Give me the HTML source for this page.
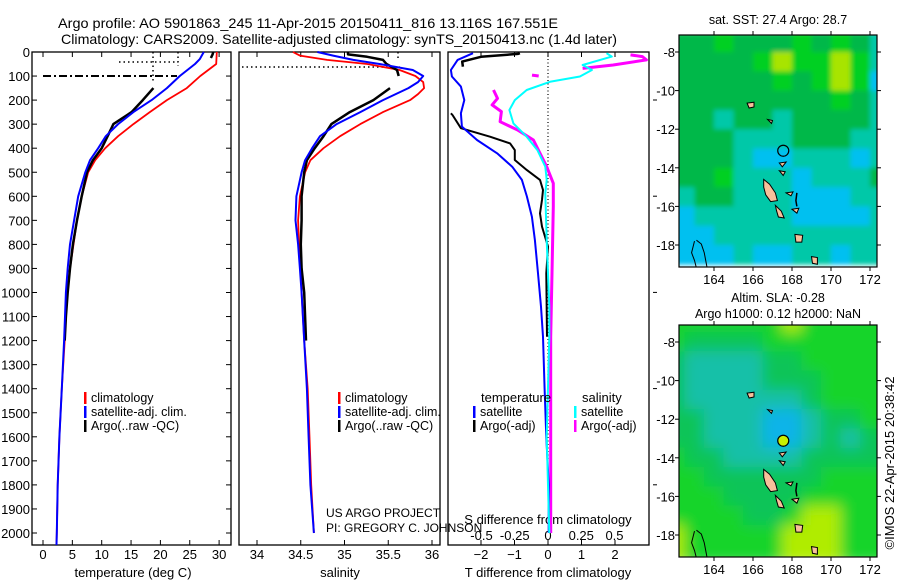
<!DOCTYPE html>
<html><head><meta charset="utf-8"><style>
html,body{margin:0;padding:0;background:#fff;}
svg{display:block;font-family:"Liberation Sans",sans-serif;}
</style></head><body>
<svg id="fig" width="900" height="580" viewBox="0 0 900 580" xmlns="http://www.w3.org/2000/svg">
<g id="titles">
<text x="58" y="28" font-size="14" textLength="500" lengthAdjust="spacingAndGlyphs">Argo profile: AO 5901863_245 11-Apr-2015 20150411_816 13.116S 167.551E</text>
<text x="61" y="44" font-size="14" textLength="556" lengthAdjust="spacingAndGlyphs">Climatology: CARS2009. Satellite-adjusted climatology: synTS_20150413.nc (1.4d later)</text>
</g>
<g id="p1"></g>
<g id="p2"></g>
<g id="p3"></g>
<g id="m1"></g>
<g id="m2"></g>
<text transform="translate(894,463) rotate(-90)" text-anchor="middle" font-size="13">©IMOS 22-Apr-2015 20:38:42</text>
<text x="326" y="517" font-size="12">US ARGO PROJECT</text>
<text x="326" y="532" font-size="12">PI: GREGORY C. JOHNSON</text>
</svg>
<script>
// ---------- profile data ----------
const depthTicks=[0,100,200,300,400,500,600,700,800,900,1000,1100,1200,1300,1400,1500,1600,1700,1800,1900,2000];
const tempTicks=[0,5,10,15,20,25,30];
const salTicks=[34,34.5,35,35.5,36];
const dTTicks=[-2,-1,0,1,2];
const dSTicks=[-0.5,-0.25,0,0.25,0.5];
const dSTickLabels=["-0.5","-0.25","0","0.25","0.5"];

const climDepth=[0,50,100,150,200,250,300,350,400,450,500,600,700,800,900,1000,1200,1400,1600,1800,2000,2050];
const climTemp=[29.6,29.5,26.8,24.5,21.1,18.2,15.4,12.8,10.6,8.9,7.7,6.6,5.8,5.2,4.6,4.1,3.7,3.2,2.8,2.5,2.35,2.3];
const satDepth=[0,30,50,100,150,200,250,300,350,400,450,500,600,700,800,900,1000,1200,1400,1600,1800,2000,2050];
const satTemp=[27.4,26.7,25.9,23.3,21.1,18.5,15.4,12.8,10.7,9.4,8.0,7.2,6.0,5.3,4.6,4.2,3.9,3.6,3.2,2.8,2.5,2.35,2.3];
const argoTopDepth=[0,10,25];
const argoTopTemp=[29.0,28.9,28.6];
const argoDepth=[150,200,250,300,350,400,450,500,600,700,800,900,1000,1100,1200];
const argoTemp=[18.8,17.0,15.1,12.0,11.0,10.0,8.5,7.5,6.6,5.8,5.1,4.6,4.2,3.9,3.7];

const climSal=[34.41,34.49,34.8,35.26,35.63,35.81,35.9,35.91,35.84,35.75,35.44,35.18,34.95,34.76,34.61,34.55,34.49,34.47,34.48,34.5,34.51,34.54,34.58,34.6,34.62,34.65];
const climSalDepth=[0,15,33,50,75,100,125,150,175,200,250,300,350,400,450,500,600,700,800,900,1000,1200,1400,1600,1800,2000];
const satSalDepth=[0,15,33,50,75,100,125,150,200,250,300,350,400,450,500,600,700,800,900,1000,1200,1400,1600,1800,2000];
const satSal=[34.69,34.87,35.1,35.4,35.78,35.9,35.84,35.73,35.44,35.18,34.91,34.72,34.63,34.55,34.51,34.45,34.44,34.47,34.49,34.51,34.54,34.57,34.59,34.61,34.65];
const argoSalTopDepth=[0,10,20,33,50,75,100];
const argoSalTop=[35.04,35.04,35.26,35.44,35.48,35.6,35.62];
const argoSalDepth=[150,200,250,300,350,400,450,500,600,700,800,900,1000,1200];
const argoSal=[35.52,35.33,35.06,34.85,34.76,34.66,34.57,34.54,34.51,34.51,34.5,34.51,34.54,34.56];

const dTSatDepth=[5,33,75,102,144,200,255,310,366,421,477,532,601,685,782,920,1059,1184,1400,1600,1800,2000];
const dTSat=[-2.24,-2.7,-2.9,-2.87,-2.6,-2.5,-2.6,-2.57,-2.12,-1.52,-1.07,-0.78,-0.63,-0.48,-0.39,-0.3,-0.21,-0.15,-0.1,-0.05,0.02,0.02];
const dTArgoTopDepth=[5,8,20,40,61];
const dTArgoTop=[-0.84,-0.9,-2.0,-2.56,-2.54];
const dTArgoDepth=[255,262,317,352,380,408,449,491,532,574,615,671,726,809,920,1184];
const dTArgo=[-2.9,-2.85,-2.6,-1.73,-1.13,-0.99,-0.99,-0.63,-0.24,-0.15,-0.18,-0.24,-0.18,0,-0.05,-0.03];
const dSSatDepth=[5,19,54,75,102,123,158,200,241,297,352,408,477,532,588,782,1059,1184,1600,2000];
const dSSat=[0.44,0.48,0.26,0.33,0.24,0.02,-0.16,-0.25,-0.29,-0.26,-0.16,-0.08,-0.02,-0.01,-0.02,-0.01,0.01,0.01,-0.01,0.01];
const dSArgoTopDepth=[12,19,33,54,68];
const dSArgoTop=[0.62,0.71,0.74,0.49,0.26];
const dSArgoMidDepth=[96,100];
const dSArgoMid=[-0.12,-0.07];
const dSArgoDepth=[158,193,220,248,290,324,366,421,477,546,643,920,1184,1600,2000];
const dSArgo=[-0.41,-0.38,-0.42,-0.35,-0.36,-0.23,-0.11,-0.06,-0.01,0.04,0.04,0.03,0.02,0.02,0.02];

// ---------- map data (colour level per 1-degree cell, rows lat -7..-19, cols lon 162..173) ----------
const mapLons=[162,163,164,165,166,167,168,169,170,171,172];
const mapLats=[-7,-8,-9,-10,-11,-12,-13,-14,-15,-16,-17,-18];
const sstLevels=[
[4,4,5,4,4,4,5,4,5,4,3],
[4,4,4,4,5,6,5,5,6,5,3],
[4,4,4,4,4,5,4,5,6,5,2],
[4,4,4,4,4,4,4,4,5,4,3],
[4,4,3,4,4,3,4,4,4,4,3],
[4,4,4,3,3,3,4,4,4,3,3],
[4,4,4,3,2,2,3,3,3,2,3],
[4,4,5,3,3,3,2,3,3,3,4],
[3,4,4,3,3,3,2,2,2,3,3],
[2,3,3,3,3,3,2,2,2,2,3],
[2,2,3,3,3,3,3,3,3,3,3],
[2,2,2,3,2,2,3,3,2,3,3]];
const slaLevels=[
[5,5,5,5,5,5,6,5,5,5,5],
[5,4,4,4,4,5,5,5,5,5,5],
[4,3,3,3,3,4,4,5,5,5,5],
[4,3,3,3,3,4,4,4,5,5,5],
[4,3,3,3,3,3,3,4,5,5,5],
[4,4,3,3,3,2,2,3,4,4,5],
[4,4,3,3,3,2,2,3,4,3,4],
[5,4,4,3,3,3,3,4,4,4,4],
[5,5,4,4,4,4,4,4,5,5,5],
[5,5,5,4,4,4,4,5,5,5,5],
[5,5,5,5,4,4,5,6,6,5,5],
[6,5,5,5,5,5,6,6,6,5,5]];
const mapLonTicks=[164,166,168,170,172];
const mapLatTicks=[-8,-10,-12,-14,-16,-18];
const argoLon=167.551, argoLat=-13.116;

const NS="http://www.w3.org/2000/svg";
function mk(parent,tag,attrs){const e=document.createElementNS(NS,tag);for(const k in attrs)e.setAttribute(k,attrs[k]);parent.appendChild(e);return e;}
const yD=d=>52+d*0.2405;
const xT=t=>43+t*5.87;
const xS=s=>257+(s-34)*87.5;
const xDT=v=>548+v*33.5;
const xDS=v=>548+v*133;
const TOP=52,BOT=545;

function polyline(g,xs,ds,fx,color,w,name){
  const pts=xs.map((v,i)=>fx(v).toFixed(1)+","+yD(ds[i]).toFixed(1)).join(" ");
  const p=mk(g,"polyline",{points:pts,fill:"none",stroke:color,"stroke-width":w,"stroke-linejoin":"round"});
  
  
}
function frame(g,x0,x1,name){
  const r=mk(g,"rect",{x:x0,y:TOP,width:x1-x0,height:BOT-TOP,fill:"none",stroke:"#000","stroke-width":1.3});
  
  
}
function xAxis(g,ticks,fx,labels,ly,name){
  ticks.forEach((t,i)=>{
    const x=fx(t);
    mk(g,"line",{x1:x,x2:x,y1:TOP,y2:TOP+5,stroke:"#000"});
    mk(g,"line",{x1:x,x2:x,y1:BOT,y2:BOT-5,stroke:"#000"});
    const tx=mk(g,"text",{x:x,y:ly,"text-anchor":"middle","font-size":13});
    tx.textContent=labels?labels[i]:String(t);
    
    
  });
}
function legendEntry(g,x,y,color,label){
  const r=mk(g,"rect",{x:x,y:y-10,width:2.5,height:12,fill:color});
  
  
  const t=mk(g,"text",{x:x+7,y:y,"font-size":12.5});
  t.textContent=label;
  
  
}
function label(g,x,y,txt,name,anchor){
  const t=mk(g,"text",{x:x,y:y,"text-anchor":anchor||"middle","font-size":13});
  t.textContent=txt;
  
  
}

// ----- panel 1 temperature -----
const p1=document.getElementById("p1");
frame(p1,32,231,"temperature-plot-frame");
depthTicks.forEach(d=>{
  const y=yD(d);
  mk(p1,"line",{x1:32,x2:37,y1:y,y2:y,stroke:"#000"});
  mk(p1,"line",{x1:231,x2:226,y1:y,y2:y,stroke:"#000"});
  const t=mk(p1,"text",{x:30,y:y+5,"text-anchor":"end","font-size":13});
  t.textContent=d;
  
  
});
xAxis(p1,tempTicks,xT,null,559,"temperature-tick-label");
label(p1,133,577,"temperature (deg C)","temperature-axis-title");
mk(p1,"line",{x1:119,x2:178,y1:62,y2:62,stroke:"#000","stroke-dasharray":"1.5,3","stroke-width":1.5});
mk(p1,"line",{x1:153,x2:153,y1:52,y2:83,stroke:"#000","stroke-dasharray":"1.5,3","stroke-width":1.5});
mk(p1,"line",{x1:178,x2:178,y1:52,y2:66,stroke:"#000","stroke-dasharray":"1.5,3","stroke-width":1.5});
mk(p1,"line",{x1:43,x2:177,y1:76,y2:76,stroke:"#000","stroke-dasharray":"8,3,2,3","stroke-width":2});
polyline(p1,climTemp,climDepth,xT,"#ff0000",1.8,"climatology-temperature-line");
polyline(p1,argoTopTemp,argoTopDepth,xT,"#000",2.5,"argo-temperature-top-line");
polyline(p1,argoTemp,argoDepth,xT,"#000",2.5,"argo-temperature-line");
polyline(p1,satTemp,satDepth,xT,"#0000ff",2,"satellite-temperature-line");
legendEntry(p1,84,402,"#ff0000","climatology");
legendEntry(p1,84,416,"#0000ff","satellite-adj. clim.");
legendEntry(p1,84,430,"#000","Argo(..raw -QC)");

// ----- panel 2 salinity -----
const p2=document.getElementById("p2");
frame(p2,239,440,"salinity-plot-frame");
xAxis(p2,salTicks,xS,["34","34.5","35","35.5","36"],559,"salinity-tick-label");
label(p2,340,577,"salinity","salinity-axis-title");
mk(p2,"line",{x1:242,x2:400,y1:67,y2:67,stroke:"#000","stroke-dasharray":"1.5,3","stroke-width":1.5});
mk(p2,"line",{x1:398,x2:398,y1:52,y2:60,stroke:"#000","stroke-dasharray":"1.5,3","stroke-width":1.5});
polyline(p2,climSal,climSalDepth,xS,"#ff0000",1.8,"climatology-salinity-line");
polyline(p2,argoSalTop,argoSalTopDepth,xS,"#000",2.5,"argo-salinity-top-line");
polyline(p2,argoSal,argoSalDepth,xS,"#000",2.5,"argo-salinity-line");
polyline(p2,satSal,satSalDepth,xS,"#0000ff",2,"satellite-salinity-line");
legendEntry(p2,338,402,"#ff0000","climatology");
legendEntry(p2,338,416,"#0000ff","satellite-adj. clim.");
legendEntry(p2,338,430,"#000","Argo(..raw -QC)");

// ----- panel 3 differences -----
const p3=document.getElementById("p3");
frame(p3,448,649,"difference-plot-frame");
dTTicks.forEach(t=>{const x=xDT(t);mk(p3,"line",{x1:x,x2:x,y1:BOT,y2:BOT-5,stroke:"#000"});mk(p3,"line",{x1:x,x2:x,y1:TOP,y2:TOP+5,stroke:"#000"});});
dTTicks.forEach(t=>{label(p3,xDT(t),559,String(t).replace("-","−"),"t-diff-tick-label");});
dSTicks.forEach((t,i)=>{label(p3,xDS(t),540,dSTickLabels[i],"s-diff-tick-label");});
label(p3,548,524,"S difference from climatology","s-diff-axis-title");
label(p3,548,577,"T difference from climatology","t-diff-axis-title");
[0,400,800,1200,1600,2000].forEach(d=>{mk(p3,"line",{x1:653,x2:657,y1:yD(d)+48,y2:yD(d)+48,stroke:"#000"});});
mk(p3,"line",{x1:548,x2:548,y1:52,y2:460,stroke:"#000","stroke-dasharray":"1,2.5","stroke-width":1.2});
polyline(p3,dSArgoTop,dSArgoTopDepth,xDS,"#ff00ff",3,"argo-salinity-diff-top-line");
polyline(p3,dSArgoMid,dSArgoMidDepth,xDS,"#ff00ff",3,"argo-salinity-diff-mid-line");
polyline(p3,dSArgo,dSArgoDepth,xDS,"#ff00ff",3,"argo-salinity-diff-line");
polyline(p3,dTArgoTop,dTArgoTopDepth,xDT,"#000",2.5,"argo-temperature-diff-top-line");
polyline(p3,dTArgo,dTArgoDepth,xDT,"#000",2,"argo-temperature-diff-line");
polyline(p3,dTSat,dTSatDepth,xDT,"#0000ff",2,"satellite-temperature-diff-line");
polyline(p3,dSSat,dSSatDepth,xDS,"#00ffff",2,"satellite-salinity-diff-line");
label(p3,481,402,"temperature","legend-temperature-header","start");
label(p3,582,402,"salinity","legend-salinity-header","start");
legendEntry(p3,473,416,"#0000ff","satellite");
legendEntry(p3,473,430,"#000","Argo(-adj)");
legendEntry(p3,574,416,"#00ffff","satellite");
legendEntry(p3,574,430,"#ff00ff","Argo(-adj)");

// ----- maps -----
const sstPal=["#0018a0","#0060f0","#00c0f0","#00c8a8","#00b848","#00d020","#a8e400","#f0f000"];
const slaPal=["#0018a0","#0060f0","#10b4e8","#18c0a8","#10c458","#18d42a","#b0ec00","#f0f000"];
const islands=[
[[166.55,-14.6],[166.85,-14.85],[167.15,-15.3],[167.25,-15.7],[166.9,-15.75],[166.65,-15.4],[166.55,-15.0]],
[[167.15,-15.95],[167.45,-16.25],[167.6,-16.6],[167.3,-16.55],[167.2,-16.2]],
[[168.15,-17.45],[168.55,-17.5],[168.5,-17.85],[168.2,-17.85]],
[[169.0,-18.6],[169.3,-18.65],[169.3,-19.0],[169.05,-18.95]],
[[167.7,-15.3],[168.05,-15.25],[167.95,-15.45]],
[[168.0,-16.15],[168.35,-16.1],[168.25,-16.35]],
[[167.35,-14.15],[167.65,-14.2],[167.55,-14.4]],
[[167.35,-13.75],[167.7,-13.7],[167.5,-13.95]],
[[165.7,-10.65],[166.05,-10.6],[166.05,-10.85],[165.8,-10.9]],
[[166.75,-11.5],[167.0,-11.55],[166.95,-11.7]]];
function drawMap(id,top,latRef,levels,pal,title,title2,blur,filled){
  const g=document.getElementById(id);
  const L=679,R=877,B=top+232;
  const xL=lon=>714+(lon-164)*19.5;
  const yL=lat=>latRef+(-8-lat)*19.3;
  const clipId="clip"+id;
  const defs=mk(g,"defs",{});
  const cp=mk(defs,"clipPath",{id:clipId});mk(cp,"rect",{x:L,y:top,width:R-L,height:B-top});
  if(blur){const f=mk(defs,"filter",{id:"f"+id,x:"-0.1",y:"-0.1",width:"1.2",height:"1.2"});mk(f,"feGaussianBlur",{stdDeviation:7});}
  else{const f=mk(defs,"filter",{id:"f"+id,x:"-0.05",y:"-0.05",width:"1.1",height:"1.1"});mk(f,"feGaussianBlur",{stdDeviation:2.5});}
  const clipG=mk(g,"g",{"clip-path":"url(#"+clipId+")"});
  const cells=mk(clipG,"g",{filter:"url(#f"+id+")"});
  levels.forEach((row,r)=>row.forEach((v,c)=>{
    const x0=xL(mapLons[c]),y0=yL(mapLats[r]);
    const x1=xL(mapLons[c]+1),y1=yL(mapLats[r]-1);
    const rc=mk(cells,"rect",{x:(x0-(blur?10:0)).toFixed(1),y:(y0-(blur?10:0)).toFixed(1),width:(x1-x0+(blur?20:0.5)).toFixed(1),height:(y1-y0+(blur?20:0.5)).toFixed(1),fill:pal[v]});
    
    
  }));
  islands.forEach(poly=>{
    const p=mk(clipG,"polygon",{points:poly.map(q=>xL(q[0]).toFixed(1)+","+yL(q[1]).toFixed(1)).join(" "),fill:"#f8c09a",stroke:"#000","stroke-width":1});
    
    
  });
  mk(clipG,"polyline",{points:[[168.25,-15.3],[168.2,-15.7],[168.25,-16.0]].map(q=>xL(q[0])+","+yL(q[1])).join(" "),fill:"none",stroke:"#000","stroke-width":1.5});
  mk(clipG,"polyline",{points:[[163.1,-17.75],[163.35,-17.95],[163.5,-18.4],[163.65,-19.2]].map(q=>xL(q[0])+","+yL(q[1])).join(" "),fill:"none",stroke:"#000","stroke-width":1});
  mk(clipG,"polyline",{points:[[163.0,-17.8],[162.85,-18.4],[163.0,-18.8],[163.1,-19.2]].map(q=>xL(q[0])+","+yL(q[1])).join(" "),fill:"none",stroke:"#000","stroke-width":1});
  const mkr=mk(g,"circle",{cx:xL(argoLon),cy:yL(argoLat),r:5.5,fill:filled?"#c8f000":"none",stroke:"#000","stroke-width":1.2});
  
  
  const fr=mk(g,"rect",{x:L,y:top,width:R-L,height:B-top,fill:"none",stroke:"#000","stroke-width":1.2});
  
  
  mapLonTicks.forEach(lon=>{
    const x=xL(lon);
    mk(g,"line",{x1:x,x2:x,y1:B,y2:B+4,stroke:"#000"});
    mk(g,"line",{x1:x,x2:x,y1:top,y2:top-4,stroke:"#000"});
    const t=mk(g,"text",{x:x,y:B+17,"text-anchor":"middle","font-size":13});t.textContent=lon;
    
    
  });
  mapLatTicks.forEach(lat=>{
    const y=yL(lat);
    mk(g,"line",{x1:L,x2:L-4,y1:y,y2:y,stroke:"#000"});
    mk(g,"line",{x1:R,x2:R+4,y1:y,y2:y,stroke:"#000"});
    const t=mk(g,"text",{x:675,y:y+5,"text-anchor":"end","font-size":13});t.textContent=lat;
    
    
  });
  const tt=mk(g,"text",{x:778,y:title2?top-23:top-11,"text-anchor":"middle","font-size":12.5});tt.textContent=title;
  
  
  if(title2){const t2=mk(g,"text",{x:778,y:top-7,"text-anchor":"middle","font-size":12.5});t2.textContent=title2;
    
    }
}
drawMap("m1",35,52,sstLevels,sstPal,"sat. SST: 27.4 Argo: 28.7",null,false,false);
drawMap("m2",325,342,slaLevels,slaPal,"Altim. SLA: -0.28","Argo h1000: 0.12 h2000: NaN",true,true);
</script>
</body></html>
